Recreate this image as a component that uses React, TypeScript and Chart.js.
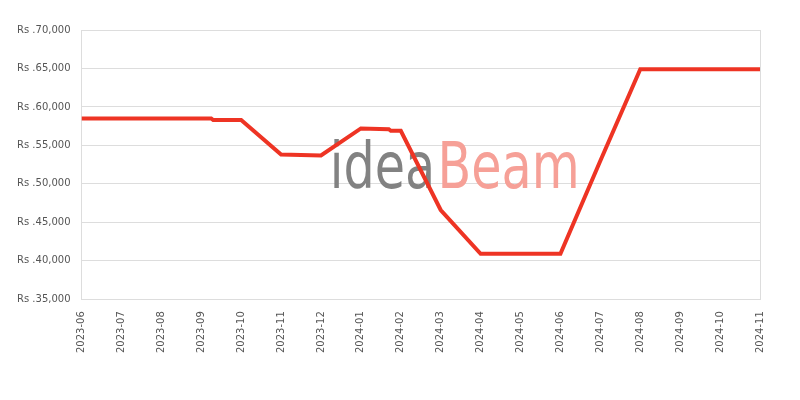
import React, { useEffect, useRef } from 'react';
import { Chart, registerables } from 'chart.js';

Chart.register(...registerables);

// month labels on the x axis
const months = [
  '2023-06', '2023-07', '2023-08', '2023-09', '2023-10', '2023-11',
  '2023-12', '2024-01', '2024-02', '2024-03', '2024-04', '2024-05',
  '2024-06', '2024-07', '2024-08', '2024-09', '2024-10', '2024-11',
];

// position of each price point, counted in months from 2023-06
const pointMonths = [0, 3.25, 3.3, 4, 5, 6, 7, 7.7, 7.75, 8, 9, 10, 12, 13, 14, 17];
const prices = [
  58500, 58500, 58300, 58300, 53800, 53700, 57200, 57100,
  56900, 56900, 46600, 40900, 40900, 53000, 64900, 64900,
];

const yMin = 35000;
const yMax = 70000;
const yStep = 5000;

const formatRs = (v: number) => 'Rs .' + v.toLocaleString('en-US');

// faint "ideaBeam" watermark behind the line
const watermark = {
  id: 'watermark',
  beforeDatasetsDraw(chart: Chart) {
    const { ctx, chartArea } = chart;
    const cx = (chartArea.left + chartArea.right) / 2 + 34;
    const baseline = chartArea.top + 158;
    ctx.save();
    ctx.font = '64px "DejaVu Sans"';
    ctx.textBaseline = 'alphabetic';
    const w1 = ctx.measureText('idea').width;
    const w2 = ctx.measureText('Beam').width;
    const total = 250;
    const scale = total / (w1 + w2 + 3);
    const left = cx - total / 2;
    ctx.translate(left, baseline);
    ctx.scale(scale, 1);
    ctx.fillStyle = '#828282';
    ctx.fillText('idea', 0, 0);
    ctx.fillStyle = '#f6a097';
    ctx.fillText('Beam', w1 + 3, 0);
    ctx.restore();
  },
};

const App: React.FC = () => {
  const chartRef = useRef<HTMLCanvasElement>(null);

  useEffect(() => {
    document.body.style.margin = '0';
    if (!chartRef.current) return;
    const chart = new Chart(chartRef.current, {
      type: 'line',
      data: {
        datasets: [{
          label: 'Price',
          data: pointMonths.map((m, i) => ({ x: m, y: prices[i] })),
          borderColor: '#ee3424',
          backgroundColor: '#ee3424',
          borderWidth: 4,
          pointRadius: 0,
          tension: 0,
          fill: false,
        }],
      },
      options: {
        animation: false,
        responsive: false,
        layout: { padding: { top: 30, right: 40, bottom: 35, left: 6 } },
        plugins: {
          legend: { display: false },
          tooltip: { enabled: false },
        },
        scales: {
          x: {
            type: 'linear',
            min: 0,
            max: months.length - 1,
            grid: {
              drawTicks: false,
              color: (c: any) => (c.index === months.length - 1 ? '#dddddd' : 'rgba(0,0,0,0)'),
            },
            border: { display: true, color: '#dddddd' },
            ticks: {
              stepSize: 1,
              autoSkip: false,
              maxRotation: 90,
              minRotation: 90,
              padding: 12,
              color: '#555555',
              font: { family: '"DejaVu Sans"', size: 10 },
              callback: (v: any) => months[Number(v)] ?? '',
            },
          },
          y: {
            min: yMin,
            max: yMax,
            grid: { drawTicks: false, color: '#dddddd' },
            border: { display: true, color: '#dddddd' },
            ticks: {
              stepSize: yStep,
              padding: 11,
              color: '#555555',
              font: { family: '"DejaVu Sans"', size: 10 },
              callback: (v: any) => formatRs(Number(v)),
            },
          },
        },
      },
      plugins: [watermark],
    });
    return () => chart.destroy();
  }, []);

  return (
    <div style={{ width: 800, height: 400 }}>
      <canvas ref={chartRef} width={800} height={400} />
    </div>
  );
};

export default App;
